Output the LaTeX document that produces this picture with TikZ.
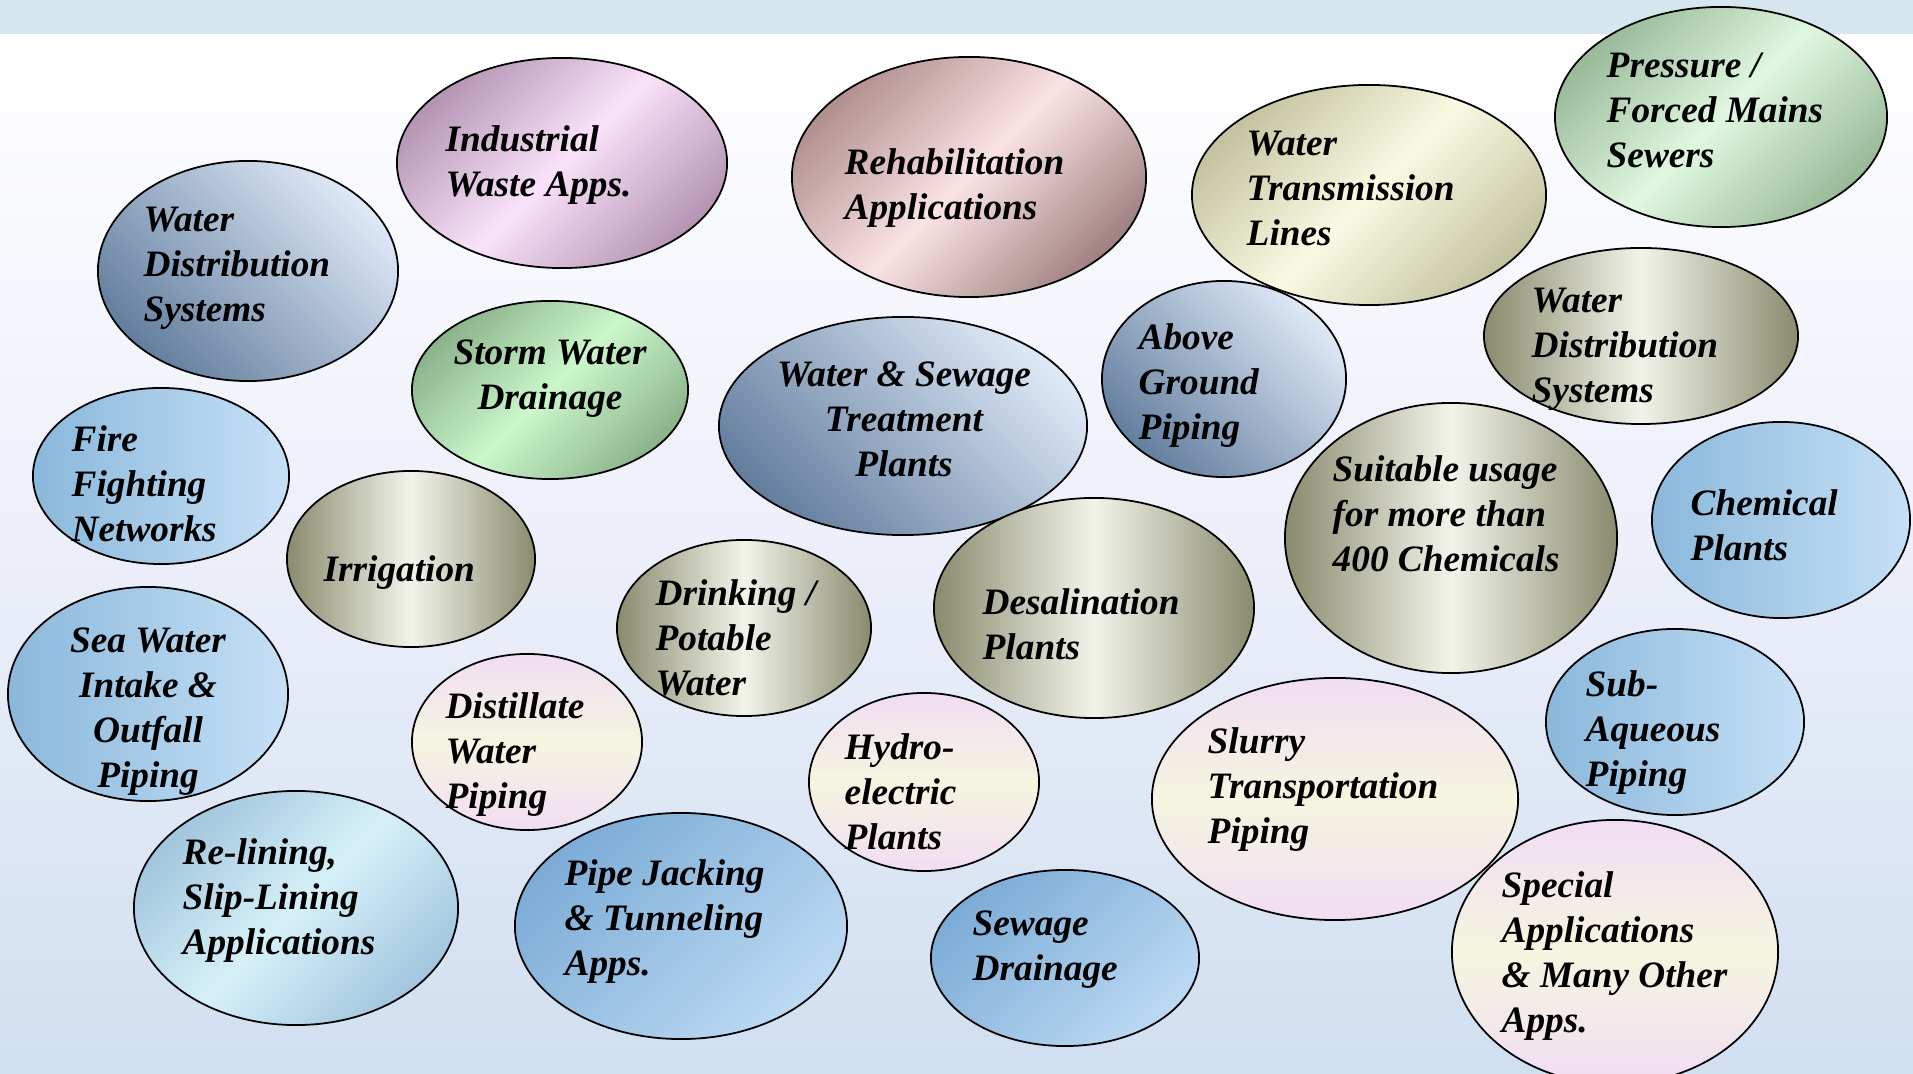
\documentclass[tikz,border=0pt]{standalone}
\usepackage{fontspec}
\setmainfont{Liberation Serif}
\usepackage{xcolor}
\usepackage{tikz}
\usetikzlibrary{shapes.geometric}

\definecolor{bandblue}{RGB}{213,230,239}
\definecolor{bgmid}{RGB}{236,239,250}
\definecolor{bgbot}{RGB}{208,223,240}
\definecolor{slateD}{RGB}{100,126,158}
\definecolor{slateL}{RGB}{222,233,247}
\definecolor{mauveD}{RGB}{180,150,180}
\definecolor{mauveL}{RGB}{250,226,250}
\definecolor{roseD}{RGB}{178,144,144}
\definecolor{roseL}{RGB}{251,227,228}
\definecolor{creamD}{RGB}{196,195,160}
\definecolor{creamL}{RGB}{250,250,228}
\definecolor{sageD}{RGB}{154,186,154}
\definecolor{sageL}{RGB}{224,248,224}
\definecolor{mintD}{RGB}{140,180,140}
\definecolor{mintL}{RGB}{203,247,203}
\definecolor{skyD}{RGB}{138,184,219}
\definecolor{skyL}{RGB}{198,224,246}
\definecolor{oceanD}{RGB}{124,172,214}
\definecolor{oceanL}{RGB}{188,217,243}
\definecolor{aquaD}{RGB}{162,198,222}
\definecolor{aquaL}{RGB}{214,240,248}
\definecolor{metalD}{RGB}{138,138,110}
\definecolor{metalL}{RGB}{242,244,234}
\definecolor{pastelP}{RGB}{241,221,243}
\definecolor{pastelY}{RGB}{245,245,224}

\begin{document}
\begin{tikzpicture}[x=0.01cm, y=-0.01cm,
  bubble/.style={ellipse, draw=black, line width=0.5pt, inner sep=0pt},
  slate ball/.style={top color=slateL, bottom color=slateD, shading angle=-45},
  mauve ball/.style={top color=mauveD, bottom color=mauveD, middle color=mauveL, shading angle=45},
  rose ball/.style={top color=roseD, bottom color=roseD!90!black, middle color=roseL, shading angle=45},
  cream ball/.style={top color=creamD, bottom color=creamD, middle color=creamL, shading angle=45},
  sage ball/.style={top color=sageD, bottom color=sageD, middle color=sageL, shading angle=45},
  mint ball/.style={top color=mintD, bottom color=mintD, middle color=mintL, shading angle=45},
  sky ball/.style={left color=skyD, right color=skyL},
  ocean ball/.style={top color=oceanD, bottom color=oceanL, shading angle=45},
  aqua ball/.style={top color=aquaD, bottom color=aquaD, middle color=aquaL, shading angle=45},
  metal ball/.style={left color=metalD, right color=metalD, middle color=metalL},
  pastel ball/.style={top color=pastelP, bottom color=pastelP, middle color=pastelY},
  bubtext/.style={inner sep=0pt, align=left, anchor=north west,
    font=\fontsize{10.6}{12.8}\selectfont\bfseries\itshape}]
  \useasboundingbox (0,0) rectangle (1913,1074);
  % background
  \shade[top color=white, bottom color=bgbot, middle color=bgmid] (0,34) rectangle (1913,1074);
  \fill[bandblue] (0,0) rectangle (1913,34);

  % first row
  \node[bubble, slate ball, minimum width=3.00cm, minimum height=2.20cm] (wdsA) at (248,271) {};
  \node[bubtext] (wdsAtext) at (143,206) {Water\\Distribution\\Systems};
  \node[bubble, mauve ball, minimum width=3.30cm, minimum height=2.10cm] (waste) at (562,163) {};
  \node[bubtext] (wastetext) at (445,125) {Industrial\\Waste Apps.};
  \node[bubble, rose ball, minimum width=3.54cm, minimum height=2.40cm] (rehab) at (969,177) {};
  \node[bubtext] (rehabtext) at (844,148) {Rehabilitation\\Applications};
  \node[bubble, cream ball, minimum width=3.54cm, minimum height=2.20cm] (trans) at (1369,195) {};
  \node[bubtext] (transtext) at (1246,130) {Water\\Transmission\\Lines};
  \node[bubble, sage ball, minimum width=3.32cm, minimum height=2.20cm] (press) at (1721,117) {};
  \node[bubtext] (presstext) at (1606,52) {Pressure /\\Forced Mains\\Sewers};

  % second row
  \node[bubble, mint ball, minimum width=2.76cm, minimum height=1.78cm] (storm) at (550,390) {};
  \node[bubtext, align=center, anchor=north] (stormtext) at (550,339) {Storm Water\\Drainage};
  \node[bubble, slate ball, minimum width=3.68cm, minimum height=2.18cm] (treat) at (903,426) {};
  \node[bubtext, align=center, anchor=north] (treattext) at (904,361) {Water \& Sewage\\Treatment\\Plants};
  \node[bubble, slate ball, minimum width=2.44cm, minimum height=1.96cm] (above) at (1224,379) {};
  \node[bubtext] (abovetext) at (1138,323) {Above\\Ground\\Piping};
  \node[bubble, metal ball, minimum width=3.14cm, minimum height=1.76cm] (wdsB) at (1641,336) {};
  \node[bubble, sky ball, minimum width=2.56cm, minimum height=1.76cm] (fire) at (161,476) {};
  \node[bubtext] (firetext) at (71,425) {Fire\\Fighting\\Networks};
  \node[bubble, metal ball, minimum width=2.48cm, minimum height=1.76cm] (irrig) at (411,559) {};
  \node[bubtext] (irrigtext) at (323,555) {Irrigation};
  \node[bubble, metal ball, minimum width=3.32cm, minimum height=2.70cm] (chems) at (1451,538) {};
  \node[bubtext] (chemstext) at (1332,455) {Suitable usage\\for more than\\400 Chemicals};
  \node[bubtext] (wdsBtext) at (1531,287) {Water\\Distribution\\Systems};
  \node[bubble, sky ball, minimum width=2.58cm, minimum height=1.96cm] (chem) at (1781,520) {};
  \node[bubtext] (chemtext) at (1690,489) {Chemical\\Plants};

  % third row
  \node[bubble, sky ball, minimum width=2.80cm, minimum height=2.14cm] (sea) at (148,694) {};
  \node[bubtext, align=center, anchor=north] (seatext) at (148,627) {Sea Water\\Intake \&\\Outfall\\Piping};
  \node[bubble, metal ball, minimum width=2.54cm, minimum height=1.76cm] (drink) at (744,628) {};
  \node[bubtext] (drinktext) at (655,579) {Drinking /\\Potable\\Water};
  \node[bubble, metal ball, minimum width=3.20cm, minimum height=2.20cm] (desal) at (1094,608) {};
  \node[bubtext] (desaltext) at (982,588) {Desalination\\Plants};
  \node[bubble, pastel ball, minimum width=2.30cm, minimum height=1.76cm] (distil) at (527,742) {};
  \node[bubtext] (distiltext) at (445,692) {Distillate\\Water\\Piping};
  \node[bubble, pastel ball, minimum width=2.30cm, minimum height=1.78cm] (hydro) at (924,782) {};
  \node[bubtext] (hydrotext) at (844,733) {Hydro-\\electric\\Plants};
  \node[bubble, pastel ball, minimum width=3.66cm, minimum height=2.42cm] (slurry) at (1335,799) {};
  \node[bubtext] (slurrytext) at (1207,727) {Slurry\\Transportation\\Piping};
  \node[bubble, sky ball, minimum width=2.58cm, minimum height=1.86cm] (subaq) at (1675,722) {};
  \node[bubtext] (subaqtext) at (1585,670) {Sub-\\Aqueous\\Piping};

  % bottom row
  \node[bubble, aqua ball, minimum width=3.24cm, minimum height=2.34cm] (reline) at (296,908) {};
  \node[bubtext] (relinetext) at (182,838) {Re-lining,\\Slip-Lining\\Applications};
  \node[bubble, ocean ball, minimum width=3.32cm, minimum height=2.26cm] (jack) at (681,926) {};
  \node[bubtext] (jacktext) at (564,859) {Pipe Jacking\\\& Tunneling\\Apps.};
  \node[bubble, ocean ball, minimum width=2.68cm, minimum height=1.76cm] (sewage) at (1065,958) {};
  \node[bubtext] (sewagetext) at (972,910) {Sewage\\Drainage};
  \node[bubble, pastel ball, minimum width=3.26cm, minimum height=2.64cm] (special) at (1615,952) {};
  \node[bubtext] (specialtext) at (1501,871) {Special\\Applications\\\& Many Other\\Apps.};
\end{tikzpicture}
\end{document}
